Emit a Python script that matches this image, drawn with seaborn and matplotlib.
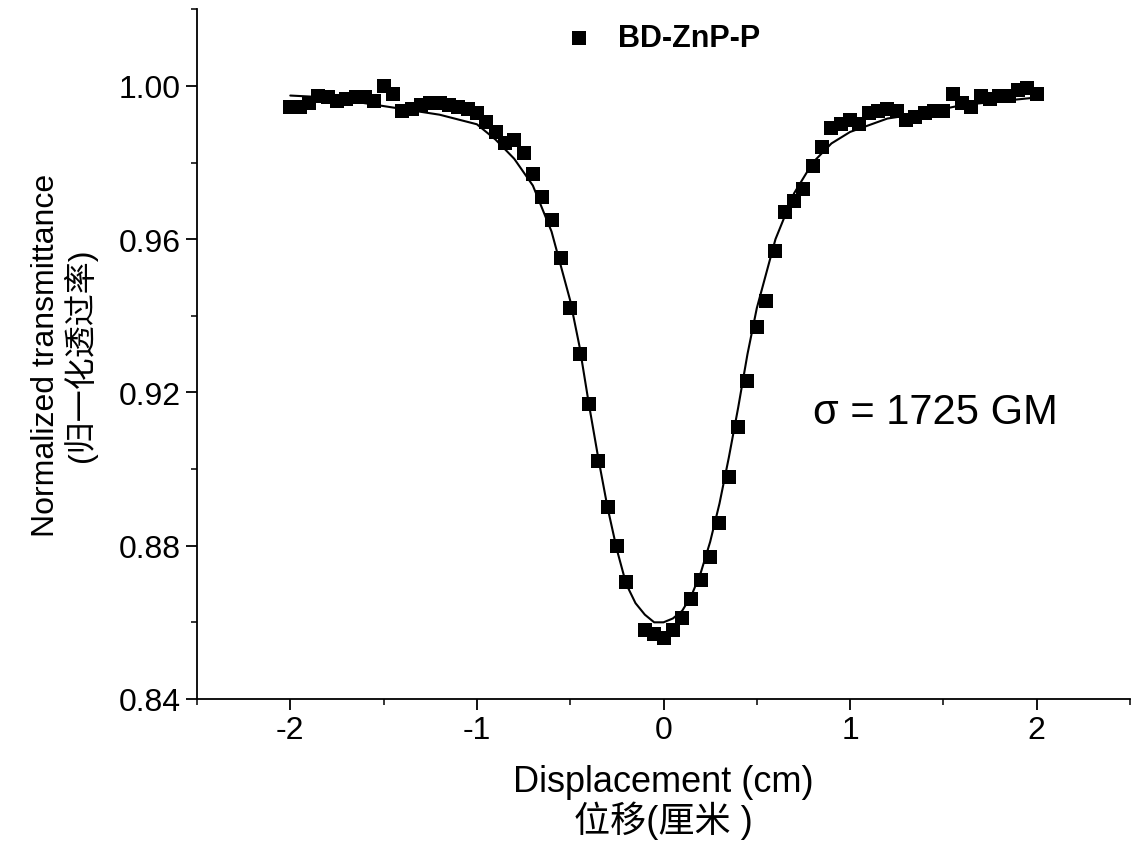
import numpy as np
import pandas as pd
import matplotlib
matplotlib.use("Agg")
import matplotlib.pyplot as plt
import seaborn as sns
from matplotlib.ticker import MultipleLocator

sns.set_style("ticks")
plt.rcParams['font.family'] = ['Liberation Sans', 'Noto Sans CJK SC', 'DejaVu Sans']
plt.rcParams['text.color'] = 'black'
plt.rcParams['axes.labelcolor'] = 'black'
plt.rcParams['xtick.color'] = 'black'
plt.rcParams['ytick.color'] = 'black'
plt.rcParams['axes.edgecolor'] = 'black'

x_data = [-2.0, -1.95, -1.9, -1.85, -1.8, -1.75, -1.7, -1.65, -1.6, -1.55, -1.5, -1.45, -1.4, -1.35,
          -1.3, -1.25, -1.2, -1.15, -1.1, -1.05, -1.0, -0.95, -0.9, -0.85, -0.8, -0.75, -0.7, -0.65,
          -0.6, -0.55, -0.5, -0.45, -0.4, -0.35, -0.3, -0.25, -0.2, -0.1, -0.05, 0.0, 0.05, 0.1,
          0.15, 0.2, 0.25, 0.3, 0.35, 0.4, 0.45, 0.5, 0.55, 0.6, 0.65, 0.7, 0.75, 0.8, 0.85, 0.9,
          0.95, 1.0, 1.05, 1.1, 1.15, 1.2, 1.25, 1.3, 1.35, 1.4, 1.45, 1.5, 1.55, 1.6, 1.65, 1.7,
          1.75, 1.8, 1.85, 1.9, 1.95, 2.0]
t_data = [0.9945, 0.9945, 0.9955, 0.9975, 0.997, 0.996, 0.9965, 0.997, 0.997, 0.996, 1.000, 0.998,
          0.9935, 0.994, 0.995, 0.9955, 0.9955, 0.995, 0.9945, 0.994, 0.993, 0.9905, 0.988, 0.985,
          0.986, 0.9825, 0.977, 0.971, 0.965, 0.955, 0.942, 0.930, 0.917, 0.902, 0.890, 0.880,
          0.8705, 0.858, 0.857, 0.856, 0.858, 0.861, 0.866, 0.871, 0.877, 0.886, 0.898, 0.911,
          0.923, 0.937, 0.944, 0.957, 0.967, 0.970, 0.973, 0.979, 0.984, 0.989, 0.990, 0.991,
          0.990, 0.993, 0.9935, 0.994, 0.9935, 0.991, 0.992, 0.993, 0.9935, 0.9935, 0.998, 0.9955,
          0.9945, 0.9975, 0.9965, 0.9975, 0.9975, 0.999, 0.9995, 0.998]

x_fit = [-2.0, -1.8, -1.6, -1.4, -1.2, -1.0, -0.9, -0.8, -0.7, -0.6, -0.5, -0.45, -0.4, -0.35, -0.3,
         -0.25, -0.2, -0.15, -0.1, -0.05, 0.0, 0.05, 0.1, 0.15, 0.2, 0.25, 0.3, 0.35, 0.4, 0.45,
         0.5, 0.6, 0.7, 0.8, 0.9, 1.0, 1.2, 1.4, 1.6, 1.8, 2.0]
t_fit = [0.9975, 0.997, 0.9955, 0.994, 0.9925, 0.990, 0.986, 0.981, 0.974, 0.962, 0.944, 0.932,
         0.917, 0.903, 0.890, 0.879, 0.870, 0.865, 0.862, 0.860, 0.860, 0.861, 0.863, 0.867,
         0.873, 0.881, 0.891, 0.903, 0.916, 0.930, 0.942, 0.960, 0.972, 0.980, 0.985, 0.988,
         0.9915, 0.993, 0.995, 0.996, 0.997]

df = pd.DataFrame({"x": x_data, "t": t_data})
fit = pd.DataFrame({"x": x_fit, "t": t_fit})

fig = plt.figure(figsize=(11.42, 8.62), dpi=100)
ax = fig.add_axes([0.1725, 0.188, 0.817, 0.8])
sns.lineplot(data=fit, x="x", y="t", color="black", lw=1.5, ax=ax)
sns.scatterplot(data=df, x="x", y="t", marker="s", s=110, color="black", edgecolor="black",
                linewidth=0, ax=ax, label="BD-ZnP-P", zorder=3)

ax.set_xlim(-2.5, 2.5)
ax.set_ylim(0.84, 1.02)
ax.set_xticks([-2, -1, 0, 1, 2])
ax.set_xticklabels(["-2", "-1", "0", "1", "2"])
ax.set_yticks([0.84, 0.88, 0.92, 0.96, 1.00])
ax.set_yticklabels(["0.84", "0.88", "0.92", "0.96", "1.00"])
ax.xaxis.set_minor_locator(MultipleLocator(0.5))
ax.yaxis.set_minor_locator(MultipleLocator(0.02))
ax.tick_params(which="major", length=8, width=1.3, labelsize=23, direction="out")
ax.tick_params(which="minor", length=4, width=1.1, direction="out")
sns.despine(ax=ax)
for s in ["left", "bottom"]:
    ax.spines[s].set_linewidth(1.3)

ax.set_xlabel("Displacement (cm)\n位移(厘米 )", fontsize=26, linespacing=1.05, labelpad=14)
ax.set_ylabel("Normalized transmittance\n(归一化透过率)", fontsize=23, linespacing=1.05, labelpad=16)
ax.text(0.8, 0.912, "σ = 1725 GM", fontsize=30)
leg = ax.legend(loc="upper center", bbox_to_anchor=(0.49, 1.02), frameon=False,
                prop={"size": 22, "weight": "bold"}, handletextpad=0.3, markerscale=1.0)
fig.savefig("out.png", dpi=100)
